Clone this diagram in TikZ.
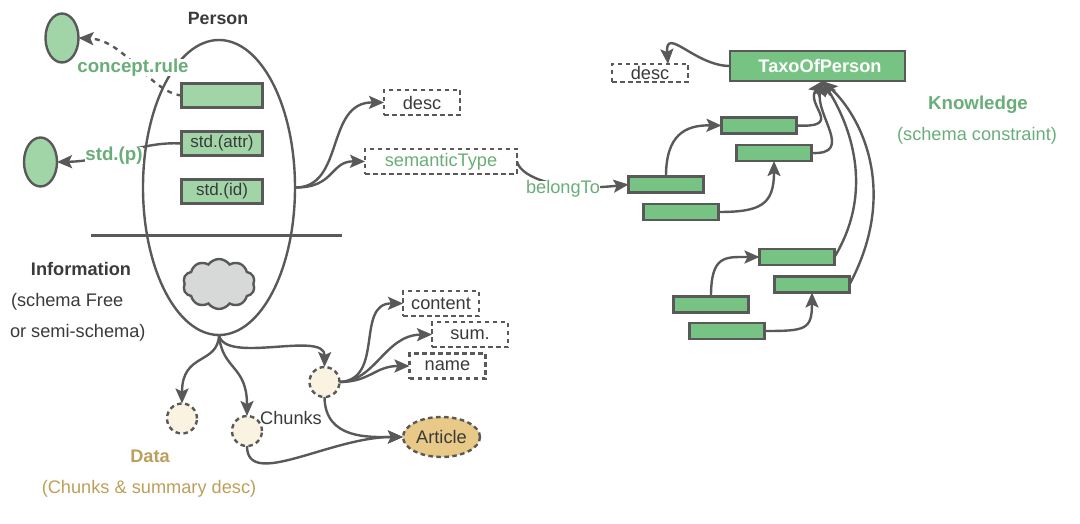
\documentclass[tikz,border=0pt]{standalone}
\usepackage{fontspec}
\setmainfont{Liberation Sans}
\usetikzlibrary{shapes,arrows.meta,positioning}
\definecolor{linegray}{HTML}{595959}
\definecolor{textgray}{HTML}{3A3A3A}
\definecolor{lightgreen}{HTML}{A1D5A8}
\definecolor{midgreen}{HTML}{76C384}
\definecolor{labelgreen}{HTML}{69AE78}
\definecolor{tan}{HTML}{BC9F5A}
\definecolor{cream}{HTML}{FBF3E2}
\definecolor{sand}{HTML}{E8C988}
\definecolor{cloudgray}{HTML}{D6D9D8}
\newcommand{\regfont}{\fontsize{18.2}{20}\selectfont}
\newcommand{\boldfont}{\fontsize{18.2}{20}\selectfont\bfseries}

\begin{document}
\begin{tikzpicture}[
    x=1pt, y=-1pt,
    every node/.style={inner sep=0pt, outer sep=0pt, text=textgray, font=\regfont},
    box/.style={rectangle, draw=linegray, line width=2.6pt, fill=lightgreen, minimum width=81pt, minimum height=24pt, font=\fontsize{17}{20}\selectfont},
    oval/.style={ellipse, draw=linegray, line width=2.4pt, fill=lightgreen, minimum width=33pt, minimum height=49pt},
    taxo/.style={rectangle, draw=linegray, line width=2.6pt, fill=midgreen, minimum width=75pt, minimum height=16pt},
    dashbox/.style={rectangle, draw=linegray, line width=2.4pt, dash pattern=on 4.5pt off 3.5pt, minimum width=76pt, minimum height=25pt},
    dot/.style={circle, draw=linegray, line width=2.4pt, dash pattern=on 4.5pt off 3.5pt, fill=cream, minimum size=30pt},
    link/.style={draw=linegray, line width=2.4pt, -{Stealth[length=15pt,width=13pt,inset=3pt]}},
    plain/.style={draw=linegray, line width=2.4pt},
    greenbold/.style={text=labelgreen, font=\fontsize{18.7}{20}\selectfont\bfseries, fill=white},
    tanlabel/.style={text=tan}
]
\useasboundingbox (0,0) rectangle (1080,524);

% person side
\node[ellipse, draw=linegray, line width=2.4pt, minimum width=152pt, minimum height=295pt] (person) at (219,187.5) {};
\node[font=\fontsize{17.8}{20}\selectfont\bfseries] (person-label) at (218,18.5) {Person};
\node[box] (rule-box) at (222,95.5) {};
\node[box, below=24pt of rule-box] (attr-box) {std.(attr)};
\node[box, below=24pt of attr-box] (id-box) {std.(id)};
\node[oval] (rule-oval) at (62,38) {};
\node[oval] (p-oval) at (40.5,162) {};
\coordinate (sep-left) at (91,235.5);
\coordinate (sep-right) at (342,235.5);
\draw[plain] (sep-left) -- (sep-right);
\node[cloud, cloud puffs=10, cloud puff arc=110, aspect=1.5, draw=linegray, line width=2.4pt, fill=cloudgray, minimum width=72pt, minimum height=50pt] (blob) at (219,284) {};

% dashed boxes and data nodes
\node[dashbox] (desc) at (422,102.5) {desc};
\node[dashbox, minimum width=152pt, text=labelgreen] (semantic) at (441,161.5) {semanticType};
\node[dashbox] (content) at (441,303.5) {content};
\node[dashbox] (sum) at (470,334.5) {sum.};
\node[dashbox] (name) at (447.5,366) {name};
\node[dot] (data-a) at (182,418.5) {};
\node[dot] (data-b) at (247,431) {};
\node[dot] (data-c) at (324.5,382) {};
\node[ellipse, draw=linegray, line width=2.4pt, dash pattern=on 4.5pt off 3.5pt, fill=sand, minimum width=77pt, minimum height=40pt] (article) at (441.5,437) {Article};

% taxonomy
\node[rectangle, draw=linegray, line width=2.6pt, fill=midgreen, minimum width=175pt, minimum height=30pt, text=white, font=\boldfont] (taxo-root) at (817.5,66) {\hspace*{5pt}TaxoOfPerson};
\node[dashbox, minimum height=18pt] (taxo-desc) at (650,73) {desc};
\node[taxo] (t-a) at (666,184.5) {};
\node[taxo] (t-b) at (681,212) {};
\node[taxo] (t-c) at (759,125.5) {};
\node[taxo] (t-d) at (774,153) {};
\node[taxo] (t-e) at (797,257) {};
\node[taxo] (t-f) at (812,284.5) {};
\node[taxo] (t-g) at (711,304.5) {};
\node[taxo] (t-h) at (727,331) {};

% connectors
\draw[link, dash pattern=on 5pt off 5pt] (rule-box.west) .. controls (150,92) and (125,40) .. (rule-oval.east);
\draw[link] (attr-box.west) .. controls (140,141) and (110,161) .. (p-oval.east);
\draw[link] (person.east) .. controls (345,188) and (325,102) .. (desc.west);
\draw[link] (person.east) .. controls (335,188) and (330,161) .. (semantic.west);
\draw[link] (semantic.east) .. controls (521,178) and (560,192) .. (t-a.west);
\draw[link] (person.south) .. controls (218,365) and (182,352) .. (data-a.north);
\draw[link] (person.south) .. controls (222,370) and (247,365) .. (data-b.north);
\draw[link] (person.south) .. controls (225,365) and (325,330) .. (data-c.north);
\draw[link] (data-c.east) .. controls (385,380) and (355,303) .. (content.west);
\draw[link] (data-c.east) .. controls (375,382) and (385,335) .. (sum.west);
\draw[link] (data-c.east) .. controls (370,382) and (375,366) .. (name.west);
\draw[link] (data-c.south) .. controls (325,440) and (370,437) .. (article.west);
\draw[link] (data-b.south) .. controls (247,490) and (330,437) .. (article.west);
\draw[link] (taxo-root.west) .. controls (695,66) and (665,25) .. ([xshift=18pt]taxo-desc.north);
\draw[link] (t-a.north) .. controls (666,135) and (685,125) .. (t-c.west);
\draw[link] (t-b.east) .. controls (760,212) and (774,205) .. (t-d.south);
\draw[link] (t-c.east) .. controls (845,128) and (805,105) .. ([xshift=5pt]taxo-root.south);
\draw[link] (t-d.east) .. controls (855,155) and (815,115) .. ([xshift=5pt]taxo-root.south);
\draw[link] (t-e.east) .. controls (875,190) and (850,125) .. ([xshift=5pt]taxo-root.south);
\draw[link] (t-f.east) .. controls (900,190) and (860,115) .. ([xshift=5pt]taxo-root.south);
\draw[link] (t-g.north) .. controls (711,255) and (725,257) .. (t-e.west);
\draw[link] (t-h.east) .. controls (805,331) and (812,330) .. (t-f.south);

% labels
\node[greenbold] (rule-label) at (133,67.5) {concept.rule};
\node[greenbold] (p-label) at (114,155.5) {std.(p)};
\node[text=labelgreen, fill=white] (belong-label) at (563,189) {belongTo};
\node[greenbold] (know-label) at (978,105) {Knowledge};
\node[text=labelgreen] (know-note) at (977,136) {(schema constraint)};
\node[font=\boldfont] (info-label) at (81,269) {Information};
\node[anchor=west] (info-a) at (11,302) {(schema Free};
\node[anchor=west] (info-b) at (10,333) {or semi-schema)};
\node (chunk-label) at (291,418) {Chunks};
\node[text=tan, font=\boldfont] (data-label) at (150,456) {Data};
\node[tanlabel] (data-note) at (149,489) {(Chunks \& summary desc)};
\end{tikzpicture}
\end{document}
